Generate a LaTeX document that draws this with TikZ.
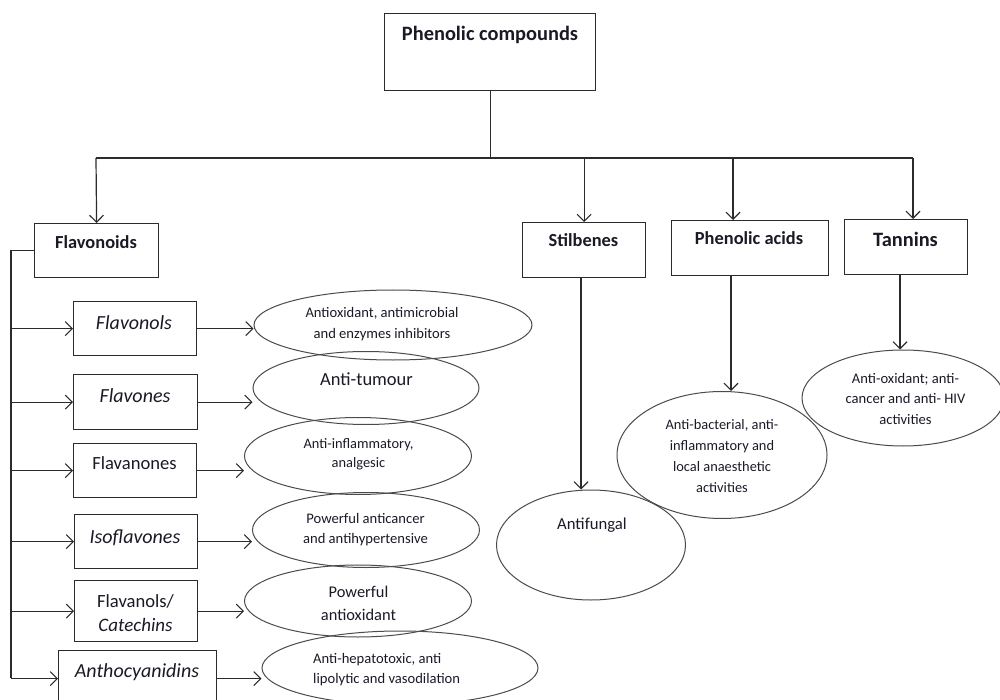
\documentclass[tikz,border=0pt]{standalone}
\usepackage{fontspec}
\setmainfont{Carlito}
\usetikzlibrary{shapes.geometric,arrows.meta}
\definecolor{ink}{HTML}{1A1A26}
\definecolor{edge}{HTML}{2B2B2B}
\begin{document}
\begin{tikzpicture}[x=1pt,y=-1pt,
  ln/.style={draw=edge, line width=1.2pt},
  arr/.style={ln, -{Straight Barb[length=7pt,width=14pt,line width=1.1pt]}},
  box/.style={draw=edge, line width=1.2pt, rectangle, inner sep=0pt, anchor=north west},
  ell/.style={draw=edge!85, line width=1pt, ellipse, inner sep=0pt},
  txt/.style={anchor=base, align=center, text=ink, inner sep=0pt},
  tbig/.style={font=\fontsize{20.4pt}{24pt}\selectfont\bfseries},
  tbold/.style={font=\fontsize{18.4pt}{22pt}\selectfont\bfseries},
  tsub/.style={font=\fontsize{18.6pt}{24pt}\selectfont},
  tisub/.style={font=\fontsize{20pt}{24pt}\selectfont\itshape},
  tsm/.style={font=\fontsize{14.6pt}{21pt}\selectfont},
]
\useasboundingbox (0,0) rectangle (1000,700);

% ---------- boxes ----------
\node[box, minimum width=211pt, minimum height=77pt] (pc) at (384,13) {};
\node[box, minimum width=124pt, minimum height=54pt] (fl) at (34,223) {};
\node[box, minimum width=123pt, minimum height=54pt] (flo) at (73,301) {};
\node[box, minimum width=124pt, minimum height=55pt] (fle) at (73,374) {};
\node[box, minimum width=123pt, minimum height=54pt] (fln) at (73,443) {};
\node[box, minimum width=123pt, minimum height=54pt] (iso) at (74,514) {};
\node[box, minimum width=123pt, minimum height=61pt] (cat) at (74,580) {};
\node[box, minimum width=158pt, minimum height=56pt] (ant) at (58,650) {};
\node[box, minimum width=123pt, minimum height=55pt] (sti) at (522,222) {};
\node[box, minimum width=157pt, minimum height=55pt] (pa) at (671,220) {};
\node[box, minimum width=123pt, minimum height=55pt] (tan) at (844,219) {};

% ---------- box texts ----------
\node[txt, tbig] (pct) at (490,41) {Phenolic compounds};
\node[txt, tbold] (flt) at (96,249) {Flavonoids};
\node[txt, tisub] (flot) at (134,329) {Flavonols};
\node[txt, tisub] (flet) at (135,402) {Flavones};
\node[txt, tsub] (flnt) at (134.5,469) {Flavanones};
\node[txt, tisub] (isot) at (135,543) {Isoflavones};
\node[txt, tsub] (catt) at (135.5,607) {Flavanols/};
\node[txt, tisub, font=\fontsize{19pt}{24pt}\selectfont\itshape] (catt2) at (135.5,631) {Catechins};
\node[txt, tisub] (antt) at (137,677) {Anthocyanidins};
\node[txt, tbold] (stit) at (583.5,247) {Stilbenes};
\node[txt, tbold] (pat) at (749,245) {Phenolic acids};
\node[txt, tbig] (tant) at (905.5,247) {Tannins};

% ---------- ellipses ----------
\node[ell, minimum width=278pt, minimum height=70pt] (e1) at (393,325) {};
\node[ell, minimum width=226pt, minimum height=73pt] (e2) at (366,388) {};
\node[ell, minimum width=227pt, minimum height=77pt] (e3) at (358,456) {};
\node[ell, minimum width=227pt, minimum height=75pt] (e4) at (366,530) {};
\node[ell, minimum width=227pt, minimum height=72pt] (e5) at (358,601) {};
\node[ell, minimum width=276pt, minimum height=74pt] (e6) at (400,668) {};
\node[ell, minimum width=189pt, minimum height=110pt] (af) at (591,545) {};
\node[ell, minimum width=210pt, minimum height=127pt] (pae) at (722,455) {};
\node[ell, minimum width=202pt, minimum height=96pt] (tne) at (903,398) {};

% ---------- ellipse texts (anchor = baseline of last line) ----------
\node[txt, tsm] (e1t) at (382,338) {Antioxidant, antimicrobial\\and enzymes inhibitors};
\node[txt, font=\fontsize{18.5pt}{22pt}\selectfont] (e2t) at (366.5,385) {Anti-tumour};
\node[txt, font=\fontsize{14.4pt}{18.5pt}\selectfont] (e3t) at (358.5,467) {Anti-inflammatory,\\analgesic};
\node[txt, font=\fontsize{14.6pt}{20pt}\selectfont] (e4t) at (365.5,543) {Powerful anticancer\\and antihypertensive};
\node[txt, font=\fontsize{16.4pt}{23pt}\selectfont] (e5t) at (358.5,620) {Powerful\\antioxidant};
\node[txt, font=\fontsize{14.6pt}{20pt}\selectfont, anchor=base west, align=left] (e6t) at (313,683) {Anti-hepatotoxic, anti\\lipolytic and vasodilation};
\node[txt, font=\fontsize{16.7pt}{20pt}\selectfont] (aft) at (592,529) {Antifungal};
\node[txt, font=\fontsize{14.4pt}{20.7pt}\selectfont] (paet) at (722,492) {Anti-bacterial, anti-\\inflammatory and\\local anaesthetic\\activities};
\node[txt, font=\fontsize{14.6pt}{20.5pt}\selectfont] (tnet) at (905.5,424) {Anti-oxidant; anti-\\cancer and anti- HIV\\activities};

% ---------- top bus ----------
\coordinate (b0) at (96,158);
\coordinate (b1) at (913,158);
\coordinate (bpa) at (733,158);
\draw[ln] (pc.south) -- (pc.south |- b0);
\draw[ln] (b0) -- (b1);
\draw[arr] (b0) -- (fl.north);
\draw[arr] (sti.north |- b0) -- (sti.north);
\draw[arr] (bpa) -- (bpa |- pa.north);
\draw[arr] (b1) -- (b1 |- tan.north);

% ---------- flavonoid spine ----------
\coordinate (sp) at (11,678);
\draw[ln] (fl.west) -- (fl.west -| sp) -- (sp);
\foreach \b in {flo,fle,fln,iso,cat,ant}{
  \draw[arr] (\b.west -| sp) -- (\b.west);
}

% ---------- sub-classes to activities ----------
\draw[arr] (flo.east) -- (flo.east -| e1.west);
\draw[arr] (fle.east) -- (fle.east -| e2.west);
\draw[arr] (fln.east) -- (fln.east -| e3.west);
\draw[arr] (iso.east) -- (iso.east -| e4.west);
\draw[arr] (cat.east) -- (cat.east -| e5.west);
\draw[arr] (ant.east) -- (ant.east -| e6.west);

% ---------- right branches ----------
\coordinate (sto) at (581,277);
\coordinate (pao) at (731,275);
\coordinate (tno) at (900,274);
\draw[arr] (sto) -- (sto |- af.north);
\draw[arr] (pao) -- (pao |- pae.north);
\draw[arr] (tno) -- (tno |- tne.north);
\end{tikzpicture}
\end{document}
